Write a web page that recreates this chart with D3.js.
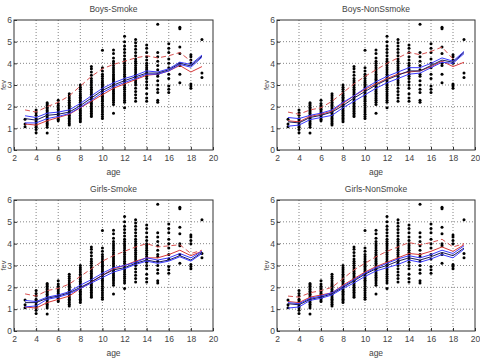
<!DOCTYPE html>
<html>
<head>
<meta charset="utf-8">
<script src="https://cdn.jsdelivr.net/npm/d3@7"></script>
<style>
  body { margin: 0; background: #fff; }
  svg { display: block; font-family: "Liberation Sans", Arial, sans-serif; }
</style>
</head>
<body>
<svg id="chart" width="480" height="361"></svg>
<script>
const W = 480, H = 361;

// fev measurements per age (same cloud in every panel)
const ages = [3, 4, 5, 6, 7, 8, 9, 10, 11, 12, 13, 14, 15, 16, 17, 18, 19];
const fevByAge = {
  3: [1.07, 1.2, 1.42],
  4: [0.8, 0.95, 1.05, 1.12, 1.2, 1.3, 1.38, 1.45, 1.6, 1.72, 1.85],
  5: [0.78, 1.05, 1.15, 1.22, 1.3, 1.38, 1.45, 1.52, 1.6, 1.68, 1.75, 1.82, 1.9, 1.97, 2.05, 2.12, 2.18],
  6: [1.35, 1.42, 1.5, 1.58, 1.65, 1.72, 1.8, 1.88, 1.95, 2.05, 2.15, 2.3],
  7: [1.15, 1.22, 1.3, 1.38, 1.45, 1.52, 1.6, 1.68, 1.75, 1.82, 1.9, 1.98, 2.05, 2.12, 2.2, 2.3, 2.4, 2.5, 2.6],
  8: [1.3, 1.38, 1.45, 1.52, 1.6, 1.68, 1.75, 1.82, 1.9, 1.98, 2.05, 2.12, 2.2, 2.28, 2.36, 2.44, 2.52, 2.6, 2.7, 2.8, 2.9, 3.0],
  9: [1.55, 1.62, 1.7, 1.78, 1.85, 1.92, 2.0, 2.08, 2.16, 2.24, 2.32, 2.4, 2.48, 2.56, 2.64, 2.72, 2.8, 2.9, 3.0, 3.1, 3.2, 3.3, 3.45, 3.6, 3.75, 3.85],
  10: [1.45, 1.55, 1.65, 1.75, 1.85, 1.95, 2.05, 2.15, 2.25, 2.32, 2.4, 2.48, 2.56, 2.64, 2.72, 2.8, 2.88, 2.96, 3.04, 3.12, 3.2, 3.3, 3.4, 3.5, 3.65, 3.8, 4.6],
  11: [1.7, 2.1, 2.2, 2.3, 2.38, 2.46, 2.54, 2.62, 2.7, 2.78, 2.86, 2.94, 3.02, 3.1, 3.18, 3.26, 3.34, 3.42, 3.5, 3.6, 3.7, 3.8, 3.9, 4.0, 4.1, 4.25, 4.45, 4.62],
  12: [1.95, 2.2, 2.3, 2.4, 2.5, 2.6, 2.7, 2.8, 2.9, 3.0, 3.1, 3.2, 3.3, 3.4, 3.5, 3.6, 3.7, 3.8, 3.9, 4.0, 4.1, 4.2, 4.35, 4.5, 4.65, 4.8, 5.0, 5.25],
  13: [2.25, 2.4, 2.55, 2.7, 2.85, 3.0, 3.1, 3.2, 3.3, 3.4, 3.5, 3.6, 3.7, 3.8, 3.9, 4.0, 4.1, 4.2, 4.35, 4.5, 4.65, 4.8, 4.95, 5.1],
  14: [2.25, 2.4, 2.6, 2.85, 3.0, 3.15, 3.3, 3.4, 3.5, 3.6, 3.7, 3.8, 3.9, 4.0, 4.15, 4.3, 4.5, 4.7, 4.85],
  15: [2.2, 2.3, 2.65, 2.8, 3.0, 3.2, 3.4, 3.5, 3.7, 3.9, 4.1, 4.3, 4.5, 5.8],
  16: [2.65, 2.8, 2.95, 3.3, 3.5, 3.8, 4.0, 4.2, 4.5, 4.7, 4.9],
  17: [3.1, 3.5, 3.9, 4.0, 4.45, 4.75, 5.6, 5.67],
  18: [2.85, 2.95, 3.05, 4.0, 4.15, 4.3, 4.4],
  19: [3.35, 3.55, 5.1]
};

// fitted curves per panel, one value per age 3..19 (null = not drawn)
const boysSmokeRedDash  = [1.85, 1.75, 2.0, 2.2, 2.5, 2.95, 3.4, 3.75, 3.95, 4.1, 4.25, 4.35, 4.25, 4.35, 4.5, 4.1, null];
const boysSmokeRed      = [1.2, 1.15, 1.35, 1.5, 1.65, 1.95, 2.25, 2.55, 2.85, 3.05, 3.25, 3.45, 3.5, 3.65, 3.9, 3.6, 3.85];
const boysSmokeBlueHi   = [1.58, 1.5, 1.7, 1.75, 1.85, 2.15, 2.5, 2.85, 3.1, 3.3, 3.45, 3.65, 3.6, 3.75, 4.05, 3.95, 4.38];
const boysSmokeNavy     = [1.45, 1.38, 1.6, 1.65, 1.75, 2.05, 2.4, 2.75, 3.0, 3.2, 3.38, 3.55, 3.55, 3.7, 4.0, 3.88, 4.33];
const boysSmokeBlueLo   = [1.25, 1.25, 1.45, 1.55, 1.68, 1.97, 2.3, 2.65, 2.92, 3.12, 3.3, 3.5, 3.5, 3.65, 3.95, 3.82, 4.28];

const boysNonRedDash    = [1.75, 1.65, 1.85, 1.95, 2.25, 2.65, 3.05, 3.4, 3.7, 4.0, 4.25, 4.5, 4.4, 4.55, 4.75, 4.2, null];
const boysNonRed        = [1.35, 1.3, 1.55, 1.65, 1.8, 2.15, 2.5, 2.8, 3.05, 3.3, 3.5, 3.6, 3.65, 3.85, 4.1, 3.85, 4.05];
const boysNonBlueHi     = [1.5, 1.45, 1.6, 1.7, 1.85, 2.2, 2.5, 2.85, 3.15, 3.4, 3.6, 3.8, 3.8, 4.0, 4.25, 4.1, 4.55];
const boysNonNavy       = [1.3, 1.25, 1.5, 1.6, 1.75, 2.05, 2.4, 2.7, 3.0, 3.25, 3.45, 3.65, 3.65, 3.9, 4.15, 4.05, 4.5];
const boysNonBlueLo     = [1.1, 1.15, 1.4, 1.5, 1.6, 1.95, 2.25, 2.55, 2.85, 3.1, 3.3, 3.5, 3.55, 3.8, 4.05, 4.0, 4.45];

const girlsSmokeRedDash = [1.7, 1.6, 1.85, 1.95, 2.15, 2.5, 2.85, 3.2, 3.45, 3.65, 3.85, 4.0, 3.85, 3.9, 3.95, 3.55, 3.7];
const girlsSmokeRed     = [1.1, 1.05, 1.3, 1.45, 1.6, 1.95, 2.25, 2.55, 2.85, 3.0, 3.2, 3.35, 3.35, 3.5, 3.7, 3.45, 3.65];
const girlsSmokeBlueHi  = [1.4, 1.35, 1.55, 1.65, 1.8, 2.1, 2.35, 2.65, 2.9, 3.0, 3.15, 3.35, 3.25, 3.35, 3.55, 3.35, 3.65];
const girlsSmokeNavy    = [1.3, 1.3, 1.5, 1.6, 1.75, 2.0, 2.25, 2.55, 2.8, 2.9, 3.1, 3.25, 3.15, 3.25, 3.45, 3.25, 3.6];
const girlsSmokeBlueLo  = [1.1, 1.15, 1.45, 1.55, 1.7, 1.95, 2.2, 2.45, 2.7, 2.85, 3.05, 3.2, 3.1, 3.2, 3.4, 3.2, 3.55];

const girlsNonRedDash   = [1.6, 1.55, 1.75, 1.85, 2.0, 2.4, 2.8, 3.1, 3.4, 3.65, 3.85, 4.05, 3.95, 4.05, 4.2, 3.85, 4.0];
const girlsNonRed       = [1.35, 1.3, 1.55, 1.65, 1.75, 2.1, 2.4, 2.7, 2.95, 3.15, 3.35, 3.55, 3.5, 3.65, 3.85, 3.65, 3.95];
const girlsNonBlueHi    = [1.3, 1.25, 1.5, 1.6, 1.75, 2.05, 2.35, 2.65, 2.9, 3.1, 3.3, 3.45, 3.35, 3.5, 3.7, 3.55, 3.9];
const girlsNonNavy      = [1.25, 1.2, 1.45, 1.55, 1.7, 2.0, 2.3, 2.6, 2.85, 3.0, 3.2, 3.35, 3.25, 3.4, 3.6, 3.45, 3.8];
const girlsNonBlueLo    = [1.05, 1.1, 1.4, 1.5, 1.65, 1.95, 2.2, 2.5, 2.75, 2.9, 3.05, 3.25, 3.15, 3.3, 3.5, 3.35, 3.75];

const xTicks = [2, 4, 6, 8, 10, 12, 14, 16, 18, 20];
const yTicks = [0, 1, 2, 3, 4, 5, 6];

const panels = [
  { title: "Boys-Smoke", box: [14, 20, 213, 150],
    lines: [boysSmokeRedDash, boysSmokeRed, boysSmokeBlueHi, boysSmokeNavy, boysSmokeBlueLo] },
  { title: "Boys-NonSsmoke", box: [277, 20, 475, 150],
    lines: [boysNonRedDash, boysNonRed, boysNonBlueHi, boysNonNavy, boysNonBlueLo] },
  { title: "Girls-Smoke", box: [14, 200, 213, 331],
    lines: [girlsSmokeRedDash, girlsSmokeRed, girlsSmokeBlueHi, girlsSmokeNavy, girlsSmokeBlueLo] },
  { title: "Girls-NonSmoke", box: [277, 200, 475, 331],
    lines: [girlsNonRedDash, girlsNonRed, girlsNonBlueHi, girlsNonNavy, girlsNonBlueLo] }
];

// red dashed, red, blue, navy, blue
const lineStyles = [
  { color: "#d85050", dash: "5,3" },
  { color: "#d83a3a", dash: null },
  { color: "#3a3aff", dash: null },
  { color: "#1a1a5a", dash: null },
  { color: "#3a3aff", dash: null }
];

const points = [];
ages.forEach(a => fevByAge[a].forEach(v => points.push([a, v])));

const svg = d3.select("#chart");
const textColor = "#444";

panels.forEach(p => drawPanel(p));

function drawPanel(p) {
  const [x0, y0, x1, y1] = p.box;
  const x = d3.scaleLinear().domain([2, 20]).range([x0, x1]);
  const y = d3.scaleLinear().domain([0, 6]).range([y1, y0]);
  const g = svg.append("g");

  // dotted grid
  g.append("g").selectAll("line")
    .data(xTicks.slice(1, -1))
    .join("line")
    .attr("x1", d => x(d)).attr("x2", d => x(d))
    .attr("y1", y0).attr("y2", y1)
    .attr("stroke", "#666").attr("stroke-width", 0.8)
    .attr("stroke-dasharray", "1,2");
  g.append("g").selectAll("line")
    .data(yTicks.slice(1, -1))
    .join("line")
    .attr("x1", x0).attr("x2", x1)
    .attr("y1", d => y(d)).attr("y2", d => y(d))
    .attr("stroke", "#666").attr("stroke-width", 0.8)
    .attr("stroke-dasharray", "1,2");

  // axes with inward ticks
  const xAxis = d3.axisBottom(x).tickValues(xTicks).tickSize(-3).tickPadding(5).tickFormat(d3.format("d"));
  const yAxis = d3.axisLeft(y).tickValues(yTicks).tickSize(-3).tickPadding(2).tickFormat(d3.format("d"));
  g.append("g").attr("transform", `translate(0,${y1})`).call(xAxis).call(styleAxis);
  g.append("g").attr("transform", `translate(${x0},0)`).call(yAxis).call(styleAxis);

  // box
  g.append("rect")
    .attr("x", x0).attr("y", y0)
    .attr("width", x1 - x0).attr("height", y1 - y0)
    .attr("fill", "none").attr("stroke", "#333").attr("stroke-width", 1);

  // scatter
  g.append("g").selectAll("circle")
    .data(points)
    .join("circle")
    .attr("cx", d => x(d[0]))
    .attr("cy", d => y(d[1]))
    .attr("r", 1.5)
    .attr("fill", "#000");

  // curves
  const line = d3.line()
    .defined(d => d[1] != null)
    .x(d => x(d[0]))
    .y(d => y(d[1]));
  p.lines.forEach((vals, i) => {
    const st = lineStyles[i];
    g.append("path")
      .datum(ages.map((a, j) => [a, vals[j]]))
      .attr("d", line)
      .attr("fill", "none")
      .attr("stroke", st.color)
      .attr("stroke-width", 1)
      .attr("stroke-dasharray", st.dash);
  });

  // labels
  g.append("text")
    .attr("x", (x0 + x1) / 2).attr("y", y0 - 8)
    .attr("text-anchor", "middle")
    .attr("font-size", 8.5).attr("fill", textColor)
    .text(p.title);
  g.append("text")
    .attr("x", (x0 + x1) / 2).attr("y", y1 + 25)
    .attr("text-anchor", "middle")
    .attr("font-size", 8.5).attr("fill", textColor)
    .text("age");
  g.append("text")
    .attr("transform", `translate(${x0 - 8},${(y0 + y1) / 2}) rotate(-90)`)
    .attr("text-anchor", "middle")
    .attr("font-size", 7.5).attr("fill", textColor)
    .text("fev");
}

function styleAxis(sel) {
  sel.select(".domain").remove();
  sel.selectAll(".tick line").attr("stroke", "#333");
  sel.selectAll(".tick text")
    .attr("font-size", 8.5)
    .attr("fill", textColor)
    .attr("font-family", "'Liberation Sans', Arial, sans-serif");
}
</script>
</body>
</html>
